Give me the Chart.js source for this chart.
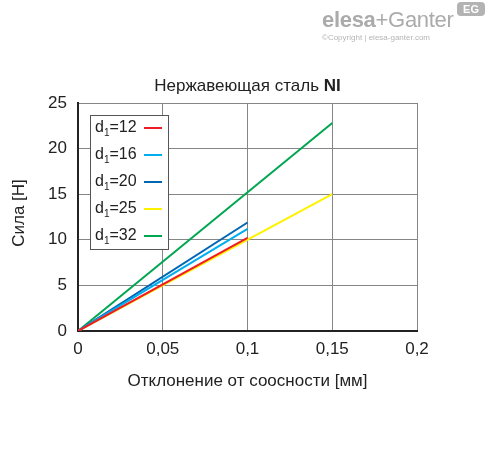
<!DOCTYPE html>
<html>
<head>
<meta charset="utf-8">
<script src="https://cdn.jsdelivr.net/npm/chart.js@4"></script>
<style>
  body { margin: 0; background: #fff; }
  #wrap { position: relative; width: 488px; height: 454px; }
  #logo { position: absolute; left: 322px; top: 8px; font-family: "Liberation Sans", Arial, sans-serif; color: #ababab; }
  #logo .brand { font-size: 22px; letter-spacing: -0.3px; line-height: 24px; }
  #logo .brand b { font-weight: 900; }
  #logo .copy { font-size: 8px; margin-top: 1px; color: #b5b5b5; }
  #eg { position: absolute; left: 457px; top: 2px; width: 28px; height: 14px; background: #b3b3b3; border-radius: 4px;
        color: #fff; font: bold 11px "Liberation Sans", sans-serif; text-align: center; line-height: 14px; }
</style>
</head>
<body>
<div id="wrap">
  <canvas id="chart" width="488" height="454"></canvas>
  <div id="logo"><div class="brand"><b>elesa</b>+Ganter</div><div class="copy">©Copyright | elesa-ganter.com</div></div>
  <div id="eg">EG</div>
</div>
<script>
// d1 values and the end point of each line (mm, N); every line starts at 0,0
const diameters = [12, 16, 20, 25, 32];
const deflectionEnd = [0.1, 0.1, 0.1, 0.15, 0.15];
const forceEnd = [10.2, 11.2, 11.9, 15, 22.8];
const colors = ['#ee1c25', '#00aeef', '#0066b3', '#fff200', '#00a651'];
const xTicks = [0, 0.05, 0.1, 0.15, 0.2];

const FONT = '"Liberation Sans", Arial, sans-serif';

const datasets = diameters.map((d, i) => ({
  label: 'd1=' + d,
  data: [{ x: 0, y: 0 }, { x: deflectionEnd[i], y: forceEnd[i] }],
  borderColor: colors[i],
  backgroundColor: colors[i],
  borderWidth: 2,
  pointRadius: 0,
  showLine: true,
  fill: false
}));

// titles + legend box with subscript
const extras = {
  id: 'extras',
  afterDatasetsDraw(chart) {
    const ctx = chart.ctx;
    const area = chart.chartArea;
    ctx.save();
    ctx.fillStyle = '#222';
    ctx.textBaseline = 'middle';

    // title, "NI" in bold
    const t1 = 'Нержавеющая сталь ';
    ctx.font = 'bold 17px ' + FONT;
    const w2 = ctx.measureText('NI').width;
    ctx.font = '17px ' + FONT;
    const w1 = ctx.measureText(t1).width;
    let tx = (area.left + area.right) / 2 - (w1 + w2) / 2;
    ctx.textAlign = 'left';
    ctx.fillText(t1, tx, 86);
    ctx.font = 'bold 17px ' + FONT;
    ctx.fillText('NI', tx + w1, 86);

    // axis titles
    ctx.font = '17px ' + FONT;
    ctx.textAlign = 'center';
    ctx.fillText('Отклонение от соосности [мм]', (area.left + area.right) / 2, 381);
    ctx.save();
    ctx.translate(19, 213);
    ctx.rotate(-Math.PI / 2);
    ctx.fillText('Сила [H]', 0, 0);
    ctx.restore();

    // legend
    const bx = 90, by = 115, bw = 78, bh = 134;
    ctx.fillStyle = '#fff';
    ctx.fillRect(bx, by, bw, bh);
    ctx.strokeStyle = '#555';
    ctx.lineWidth = 1;
    ctx.strokeRect(bx + 0.5, by + 0.5, bw, bh);
    chart.data.datasets.forEach((ds, i) => {
      const y = by + 13 + i * 27;
      ctx.fillStyle = '#222';
      ctx.textAlign = 'left';
      ctx.font = '16px ' + FONT;
      ctx.fillText('d', 95, y);
      const dw = ctx.measureText('d').width;
      ctx.font = '10px ' + FONT;
      ctx.fillText('1', 95 + dw, y + 5);
      const sw = ctx.measureText('1').width;
      ctx.font = '16px ' + FONT;
      ctx.fillText('=' + diameters[i], 95 + dw + sw, y);
      ctx.strokeStyle = ds.borderColor;
      ctx.lineWidth = 2;
      ctx.beginPath();
      ctx.moveTo(144, y);
      ctx.lineTo(162, y);
      ctx.stroke();
    });
    ctx.restore();
  }
};

new Chart(document.getElementById('chart'), {
  type: 'scatter',
  data: { datasets },
  options: {
    responsive: false,
    animation: false,
    layout: { padding: { top: 103, right: 71, left: 0, bottom: 0 } },
    plugins: { legend: { display: false }, tooltip: { enabled: false } },
    scales: {
      x: {
        type: 'linear',
        min: 0,
        max: 0.2,
        afterBuildTicks: scale => { scale.ticks = xTicks.map(v => ({ value: v })); },
        afterFit: scale => { scale.height = 123; },
        grid: { color: '#858585', lineWidth: 1, drawTicks: false },
        border: { color: '#222', width: 2 },
        ticks: {
          padding: 8,
          color: '#222',
          font: { family: FONT, size: 17 },
          callback: v => String(v).replace('.', ',')
        }
      },
      y: {
        min: 0,
        max: 25,
        afterFit: scale => { scale.width = 78; },
        grid: { color: '#858585', lineWidth: 1, drawTicks: false },
        border: { color: '#222', width: 2 },
        ticks: {
          stepSize: 5,
          padding: 11,
          color: '#222',
          font: { family: FONT, size: 17 }
        }
      }
    }
  },
  plugins: [extras]
});
</script>
</body>
</html>
